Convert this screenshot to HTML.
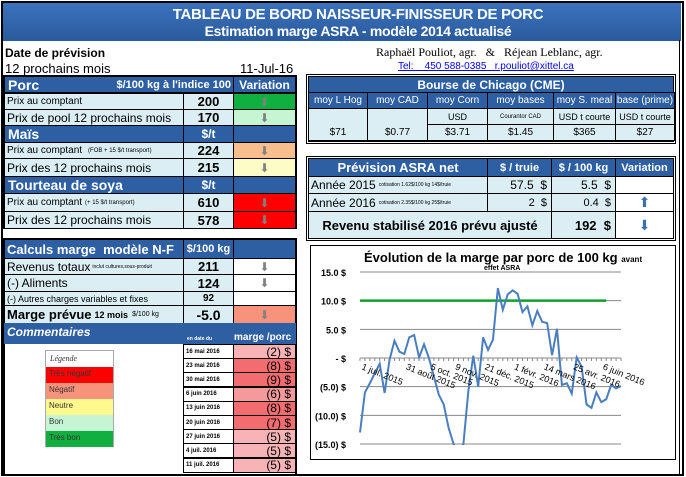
<!DOCTYPE html>
<html><head><meta charset="utf-8"><style>
*{box-sizing:border-box;margin:0;padding:0}
body{width:686px;height:477px;background:#fff;font-family:"Liberation Sans",Arial,sans-serif;position:relative;overflow:hidden}
.a{position:absolute}
.hb{background:#2e5fa3;color:#fff;font-weight:bold}
.lt{background:#dbeef4}
.c{border:1px solid #000;position:absolute;display:flex;align-items:center;white-space:nowrap;overflow:hidden}
.ctr{justify-content:center}
.rt{justify-content:flex-end;padding-right:4px}
.arr{color:#808080;font-size:12px}
</style></head><body>
<div class="a" style="left:1px;top:1px;width:683px;height:475px;border:2px solid #000"></div>
<div class="a" style="left:3px;top:3px;width:678px;height:38px;background:linear-gradient(#3b72bd,#2a5a9c);color:#fff;font-weight:bold;text-align:center;line-height:16px;padding-top:4px">
<div style="font-size:15px;margin-left:32px;letter-spacing:-0.3px">TABLEAU DE BORD NAISSEUR-FINISSEUR DE PORC</div>
<div style="font-size:14px;margin-left:32px;letter-spacing:-0.3px">Estimation marge ASRA - modèle 2014 actualisé</div></div>
<div class="a" style="left:5px;top:46px;font-size:12px;font-weight:bold">Date de prévision</div>
<div class="a" style="left:5px;top:61px;font-size:13px">12 prochains mois</div>
<div class="a" style="left:240px;top:61px;font-size:13px">11-Jul-16</div>
<div class="a" style="left:376px;top:45px;font-size:12px;font-family:'Liberation Serif',serif">Raphaël Pouliot, agr. &nbsp;&nbsp;&amp;&nbsp;&nbsp; Réjean Leblanc, agr.</div>
<div class="a" style="left:398px;top:61px;font-size:10px;color:#00f;text-decoration:underline">Tel: &nbsp;&nbsp; 450 588-0385 &nbsp; r.pouliot@xittel.ca</div>

<div class="a" style="left:3px;top:75px;width:294px;height:154px;border:2px solid #000"></div>
<div class="c hb" style="left:4px;top:76px;width:230px;height:17px;font-size:14px;padding-left:3px">Porc<span style="font-size:11px;margin-left:auto;padding-right:2px">$/100 kg à l'indice 100</span></div>
<div class="c hb ctr" style="left:233px;top:76px;width:63px;height:17px;font-size:12px">Variation</div>
<div class="c lt" style="left:4px;top:93px;width:180px;height:17px;font-size:10px;padding-left:2px">Prix au comptant</div>
<div class="c lt ctr" style="left:183px;top:93px;width:51px;height:17px;font-size:13px;font-weight:bold">200</div>
<div class="c ctr arr" style="left:233px;top:93px;width:63px;height:17px;background:#10b040">⬆</div>
<div class="c lt" style="left:4px;top:109px;width:180px;height:17px;font-size:12px;padding-left:2px">Prix de pool 12 prochains mois</div>
<div class="c lt ctr" style="left:183px;top:109px;width:51px;height:17px;font-size:13px;font-weight:bold">170</div>
<div class="c ctr arr" style="left:233px;top:109px;width:63px;height:17px;background:#c6f5d4">⬇</div>
<div class="c hb" style="left:4px;top:125px;width:180px;height:18px;font-size:14px;padding-left:3px">Maïs</div>
<div class="c hb ctr" style="left:183px;top:125px;width:51px;height:18px;font-size:12px">$/t</div>
<div class="c hb" style="left:233px;top:125px;width:63px;height:18px"></div>
<div class="c lt" style="left:4px;top:142px;width:180px;height:17px;font-size:10px;padding-left:2px">Prix au comptant <span style="font-size:6px;margin-left:6px">(FOB + 15 $/t transport)</span></div>
<div class="c lt ctr" style="left:183px;top:142px;width:51px;height:17px;font-size:13px;font-weight:bold">224</div>
<div class="c ctr arr" style="left:233px;top:142px;width:63px;height:17px;background:#f8be8e">⬇</div>
<div class="c lt" style="left:4px;top:158px;width:180px;height:19px;font-size:12px;padding-left:2px">Prix des 12 prochains mois</div>
<div class="c lt ctr" style="left:183px;top:158px;width:51px;height:19px;font-size:13px;font-weight:bold">215</div>
<div class="c ctr arr" style="left:233px;top:158px;width:63px;height:19px;background:#fdfbc6">⬇</div>
<div class="c hb" style="left:4px;top:176px;width:180px;height:18px;font-size:14px;padding-left:3px">Tourteau de soya</div>
<div class="c hb ctr" style="left:183px;top:176px;width:51px;height:18px;font-size:12px">$/t</div>
<div class="c hb" style="left:233px;top:176px;width:63px;height:18px"></div>
<div class="c lt" style="left:4px;top:193px;width:180px;height:19px;font-size:10px;padding-left:2px">Prix au comptant <span style="font-size:6px;margin-left:3px">(+ 15 $/t transport)</span></div>
<div class="c lt ctr" style="left:183px;top:193px;width:51px;height:19px;font-size:13px;font-weight:bold">610</div>
<div class="c ctr arr" style="left:233px;top:193px;width:63px;height:19px;background:#ff0000">⬇</div>
<div class="c lt" style="left:4px;top:211px;width:180px;height:18px;font-size:12px;padding-left:2px">Prix des 12 prochains mois</div>
<div class="c lt ctr" style="left:183px;top:211px;width:51px;height:18px;font-size:13px;font-weight:bold">578</div>
<div class="c ctr arr" style="left:233px;top:211px;width:63px;height:18px;background:#ff0000">⬇</div>

<div class="a" style="left:3px;top:238px;width:294px;height:238px;border:2px solid #000"></div>
<div class="c hb" style="left:4px;top:239px;width:180px;height:20px;font-size:13px;padding-left:2px">Calculs marge &nbsp;modèle N-F</div>
<div class="c hb ctr" style="left:183px;top:239px;width:51px;height:20px;font-size:11px">$/100 kg</div>
<div class="c hb" style="left:233px;top:239px;width:63px;height:20px"></div>
<div class="c lt" style="left:4px;top:258px;width:180px;height:17px;font-size:12px;padding-left:2px">Revenus totaux<span style="font-size:5px;margin-left:2px">inclut cultures,sous-produit</span></div>
<div class="c lt ctr" style="left:183px;top:258px;width:51px;height:17px;font-size:13px;font-weight:bold">211</div>
<div class="c ctr arr" style="left:233px;top:258px;width:63px;height:17px">⬇</div>
<div class="c lt" style="left:4px;top:274px;width:180px;height:18px;font-size:12px;padding-left:2px">(-) Aliments</div>
<div class="c lt ctr" style="left:183px;top:274px;width:51px;height:18px;font-size:13px;font-weight:bold">124</div>
<div class="c ctr arr" style="left:233px;top:274px;width:63px;height:18px">⬇</div>
<div class="c lt" style="left:4px;top:291px;width:180px;height:15px;font-size:9px;padding-left:2px">(-) Autres charges variables et fixes</div>
<div class="c lt ctr" style="left:183px;top:291px;width:51px;height:15px;font-size:10px;font-weight:bold">92</div>
<div class="c" style="left:233px;top:291px;width:63px;height:15px"></div>
<div class="c lt" style="left:4px;top:305px;width:180px;height:19px;font-size:13px;font-weight:bold;padding-left:2px">Marge prévue <span style="font-size:9px;margin-left:3px">12 mois</span><span style="font-size:7px;font-weight:normal;margin-left:4px">$/100 kg</span></div>
<div class="c lt ctr" style="left:183px;top:305px;width:51px;height:19px;font-size:14px;font-weight:bold">-5.0</div>
<div class="c ctr arr" style="left:233px;top:305px;width:63px;height:19px;background:#f7937a">⬇</div>
<div class="a hb" style="left:4px;top:323px;width:292px;height:21px;font-size:12px;font-style:italic;padding:2px 0 0 3px">Commentaires</div>
<div class="a" style="left:187px;top:336px;color:#fff;font-size:5px;font-weight:bold">en date du</div>
<div class="a" style="left:234px;top:332px;color:#fff;font-size:10px;font-weight:bold">marge /porc</div>
<div class="a" style="left:45px;top:350px;width:69px;height:97px;border:1px solid #aaa;font-size:8px;color:#333">
<div style="height:16px;font-style:italic;font-family:'Liberation Serif',serif;padding:3px 0 0 4px;font-size:8px">Légende</div>
<div style="height:16px;background:#ff0000;padding:2px 0 0 3px">Très négatif</div>
<div style="height:16px;background:#f7937a;padding:2px 0 0 3px">Négatif</div>
<div style="height:16px;background:#fff98e;padding:2px 0 0 3px">Neutre</div>
<div style="height:16px;background:#c6f5d4;padding:2px 0 0 3px">Bon</div>
<div style="height:16px;background:#10b040;padding:2px 0 0 3px">Très bon</div></div>
<div id="hist"></div>

<div class="a" style="left:306px;top:74px;width:370px;height:70px;border:3px double #000"></div>
<div class="c hb ctr" style="left:308px;top:76px;width:366px;height:17px;font-size:12px">Bourse de Chicago (CME)</div>
<div id="cme"></div>

<div class="a" style="left:306px;top:156px;width:370px;height:85px;border:3px double #000"></div>
<div class="c hb ctr" style="left:308px;top:158px;width:180px;height:19px;font-size:13px">Prévision ASRA net</div>
<div class="c hb ctr" style="left:487px;top:158px;width:65px;height:19px;font-size:11px">$ / truie</div>
<div class="c hb ctr" style="left:551px;top:158px;width:65px;height:19px;font-size:11px">$ / 100 kg</div>
<div class="c hb ctr" style="left:615px;top:158px;width:59px;height:19px;font-size:11px">Variation</div>
<div class="c lt" style="left:308px;top:176px;width:180px;height:18px;font-size:12px;padding-left:2px">Année 2015<span style="font-size:5px;margin-left:3px">cotisation 1.62$/100 kg 14$/truie</span></div>
<div class="c lt rt" style="left:487px;top:176px;width:65px;height:18px;font-size:12px">57.5 &nbsp;$</div>
<div class="c lt rt" style="left:551px;top:176px;width:65px;height:18px;font-size:12px">5.5 &nbsp;$</div>
<div class="c" style="left:615px;top:176px;width:59px;height:18px"></div>
<div class="c lt" style="left:308px;top:193px;width:180px;height:19px;font-size:12px;padding-left:2px">Année 2016<span style="font-size:5px;margin-left:3px">cotisation 2.35$/100 kg 25$/truie</span></div>
<div class="c lt rt" style="left:487px;top:193px;width:65px;height:19px;font-size:11px">2 &nbsp;$</div>
<div class="c lt rt" style="left:551px;top:193px;width:65px;height:19px;font-size:11px">0.4 &nbsp;$</div>
<div class="c ctr" style="left:615px;top:193px;width:59px;height:19px;color:#3a6fb0;font-size:14px">⬆</div>
<div class="c lt ctr" style="left:308px;top:211px;width:244px;height:28px;font-size:13px;font-weight:bold">Revenu stabilisé 2016 prévu ajusté</div>
<div class="c lt rt" style="left:551px;top:211px;width:65px;height:28px;font-size:13px;font-weight:bold">192 &nbsp;$</div>
<div class="c ctr" style="left:615px;top:211px;width:59px;height:28px;color:#3a6fb0;font-size:14px">⬇</div>
<div class="a" style="left:679px;top:40px;width:4px;height:436px;border-left:1px solid #000;border-right:1px solid #000"></div>

<div class="a" style="left:310px;top:245px;width:366px;height:215px;border:1px solid #000"></div>
<svg class="a" style="left:0;top:0" width="686" height="477" id="chart">
<text x="364" y="262" font-size="13" font-weight="bold" font-family="Liberation Sans">Évolution de la marge par porc de 100 kg <tspan font-size="8">avant</tspan></text>
<text x="484" y="270" font-size="7" font-weight="bold" font-family="Liberation Sans">effet ASRA</text>
</svg>
<script>
const yTicks=[15,10,5,0,-5,-10,-15];
const yTickLabels=["15.0 $","10.0 $","5.0 $","-   $","(5.0) $","(10.0) $","(15.0) $"];
const margin=[-13,-6,-4.4,-2.7,-1,-6.1,-0.3,3,1.1,0.7,3.6,4,0.1,2.4,0,-3.2,-6.4,-8.1,-12.2,-15,-16.5,-15,-5.8,0.4,-5,3.6,1.4,3.2,12.2,8.4,11.1,11.8,11.2,8,9,5.7,8.2,6.3,6.1,0.5,5.1,-4.7,-4.4,-6.2,0.1,-1.5,-8.1,-8.7,-6,-7.7,-7.2,-4.7,-5.3,-4.9];
const targetLine=10;
const dateLabels=["1 juil. 2015","31 août 2015","5 oct. 2015","9 nov. 2015","21 déc. 2015","1 févr. 2016","14 mars 2016","25 avr. 2016","6 juin 2016"];
const dateLabelIdx=[0,9,14,19,25,31,37,43,49];
const histDates=["16 mai 2016","23 mai 2016","30 mai 2016","6 juin 2016","13 juin 2016","20 juin 2016","27 juin 2016","4 juil. 2016","11 juil. 2016"];
const histMargins=[-2,-8,-9,-6,-8,-7,-5,-5,-5];
const cmeHeads=["moy L Hog","moy CAD","moy Corn","moy bases","moy S. meal","base (prime)"];
const cmeUnits=["","","USD","Courantor CAD","USD t courte","USD t courte"];
const cmeVals=["$71","$0.77","$3.71","$1.45","$365","$27"];

const NS="http://www.w3.org/2000/svg";
const svg=document.getElementById('chart');
const x0=360,x1=621,yTop=272,yBot=444;
const sy=v=>yTop+(15-v)*(yBot-yTop)/30;
const sx=i=>x0+i*(x1-x0)/(margin.length-1);
function mk(t,a){const e=document.createElementNS(NS,t);for(const k in a)e.setAttribute(k,a[k]);svg.appendChild(e);return e;}
yTicks.forEach((v,i)=>{
 const l=mk('line',{x1:x0,x2:x1,y1:sy(v),y2:sy(v),stroke:'#888','stroke-width':1});
 
 
 const t=mk('text',{x:x0-14,y:sy(v)+4,'font-size':9,'font-weight':'bold','text-anchor':'end','font-family':'Liberation Sans'});
 t.textContent=yTickLabels[i];
 
 
});
for(let i=0;i<margin.length;i++){
 const tk=mk('line',{x1:sx(i),x2:sx(i),y1:sy(0),y2:sy(0)+3,stroke:'#888'});
 
 
}
const g=mk('line',{x1:x0,x2:sx(50),y1:sy(targetLine),y2:sy(targetLine),stroke:'#10a030','stroke-width':2.5});


const clip=mk('clipPath',{id:'cp'});
const cr=document.createElementNS(NS,'rect');cr.setAttribute('x',x0-2);cr.setAttribute('y',yTop-2);cr.setAttribute('width',x1-x0+4);cr.setAttribute('height',yBot-yTop+3);clip.appendChild(cr);
const p=mk('polyline',{points:margin.map((v,i)=>sx(i)+','+sy(v)).join(' '),fill:'none',stroke:'#4a7ebf','stroke-width':2,'clip-path':'url(#cp)'});


dateLabels.forEach((d,k)=>{
 const xx=sx(dateLabelIdx[k])+1,yy=sy(0)+11;
 const t=mk('text',{x:xx,y:yy,'font-size':9,'font-family':'Liberation Sans',transform:`rotate(22 ${xx} ${yy})`});
 t.textContent=d;
 
 
});
const h=document.getElementById('hist');
histDates.forEach((d,i)=>{
 const top=344+i*14.2;
 const a=document.createElement('div');a.className='c';a.style.cssText=`left:183px;top:${top}px;width:51px;height:15px;font-size:6px;font-weight:bold;padding-left:2px`;a.textContent=d;
 
 
 h.appendChild(a);
 const b=document.createElement('div');b.className='c rt';
 const m=histMargins[i];const col=m<=-7?'#f26c70':(m<=-6?'#f4999c':'#f7b3b5');
 b.style.cssText=`left:233px;top:${top}px;width:63px;height:15px;font-size:12px;background:${col}`;
 b.textContent='('+Math.abs(m)+') $';
 
 
 h.appendChild(b);
});
const cx=[308,367,427,487,553,615,674];
const cc=document.getElementById('cme');
cmeHeads.forEach((s,i)=>{
 const w=cx[i+1]-cx[i]+1;
 const a=document.createElement('div');a.className='c hb ctr';a.style.cssText=`left:${cx[i]}px;top:92px;width:${w}px;height:17px;font-size:10px;font-weight:normal`;a.textContent=s;
 
 
 cc.appendChild(a);
 if(i<2){
  const b=document.createElement('div');b.className='c lt ctr';b.style.cssText=`left:${cx[i]}px;top:108px;width:${w}px;height:33px;font-size:10px;align-items:flex-end;padding-bottom:2px`;b.textContent=cmeVals[i];
  
  
  cc.appendChild(b);
 }else{
  const u=document.createElement('div');u.className='c lt ctr';u.style.cssText=`left:${cx[i]}px;top:108px;width:${w}px;height:17px;font-size:${i==3?6:9}px`;u.textContent=cmeUnits[i];
  
  
  cc.appendChild(u);
  const b=document.createElement('div');b.className='c lt ctr';b.style.cssText=`left:${cx[i]}px;top:124px;width:${w}px;height:17px;font-size:10px`;b.textContent=cmeVals[i];
  
  
  cc.appendChild(b);
 }
});
</script>
</body></html>
